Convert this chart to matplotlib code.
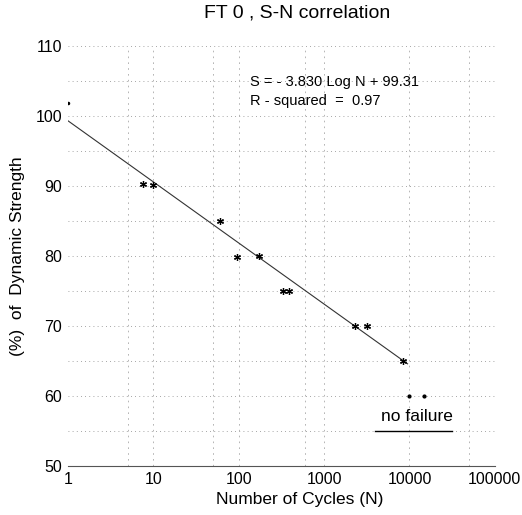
import matplotlib
matplotlib.use("Agg")
import matplotlib.pyplot as plt
from matplotlib.ticker import FixedLocator, NullFormatter

plt.rcParams['font.family'] = ['Liberation Sans', 'DejaVu Sans']

# datos
ciclos = [7.5, 10, 60, 95, 175, 330, 390, 2300, 3150, 8300]
resistencia = [90.3, 90.2, 85.0, 79.8, 80.0, 75.0, 75.0, 70.0, 70.0, 65.0]
inicio_n = [1]
inicio_s = [101.8]
sin_falla_n = [10000, 15000]
sin_falla_s = [60.0, 60.0]
ajuste_n = [1, 9500]
ajuste_s = [99.31, 64.6]

x_ticks = [1, 10, 100, 1000, 10000, 100000]
x_labels = ["1", "10", "100", "1000", "10000", "100000"]
y_ticks = [50, 60, 70, 80, 90, 100, 110]

fig = plt.figure(figsize=(5.22, 5.15), dpi=100)
ax = fig.add_axes([0.130, 0.095, 0.818, 0.816])

# rejilla punteada
for y in range(50, 111, 5):
    ax.axhline(y, color="#888888", lw=0.6, ls=(0, (1, 4)), zorder=0)
for x in [5, 10, 50, 100, 600, 1000, 10000, 50000]:
    ax.axvline(x, color="#aaaaaa", lw=0.6, ls=(0, (2, 5)), zorder=0)

ax.plot(ajuste_n, ajuste_s, color="#333333", lw=0.8)
ax.plot(ciclos, resistencia, ls="none", marker=(6, 2, 0), ms=5, mew=0.9, color="black")
ax.plot(inicio_n, inicio_s, ls="none", marker=".", ms=3, color="black")
ax.plot(sin_falla_n, sin_falla_s, ls="none", marker=".", ms=4, color="black")

ax.set_xscale("log")
ax.set_xlim(1, 100000)
ax.set_ylim(50, 110)
ax.xaxis.set_major_locator(FixedLocator(x_ticks))
ax.set_xticklabels(x_labels)
ax.xaxis.set_minor_formatter(NullFormatter())
ax.set_yticks(y_ticks)
ax.tick_params(axis="both", which="both", length=0, labelsize=11.5, pad=4)

for lado in ["top", "right", "left"]:
    ax.spines[lado].set_visible(False)
ax.spines["bottom"].set_color("#555555")
ax.spines["bottom"].set_linewidth(0.8)

fig.text(0.569, 0.975, "FT 0 , S-N correlation", fontsize=14, ha="center", va="center")
ax.set_xlabel("Number of Cycles (N)", fontsize=12.5)
ax.xaxis.set_label_coords(0.543, -0.062)
ax.set_ylabel("(%)  of  Dynamic Strength", fontsize=12.5, labelpad=8)

ax.text(0.426, 0.915, "S = - 3.830 Log N + 99.31", transform=ax.transAxes,
        fontsize=10.5, va="center")
ax.text(0.426, 0.868, "R - squared  =  0.97", transform=ax.transAxes,
        fontsize=10.5, va="center")

ax.text(0.817, 0.119, "no failure", transform=ax.transAxes, fontsize=12.5,
        ha="center", va="center")
ax.plot([0.72, 0.9], [0.083, 0.083], transform=ax.transAxes, color="black", lw=1)

fig.savefig("out.png", dpi=100)
